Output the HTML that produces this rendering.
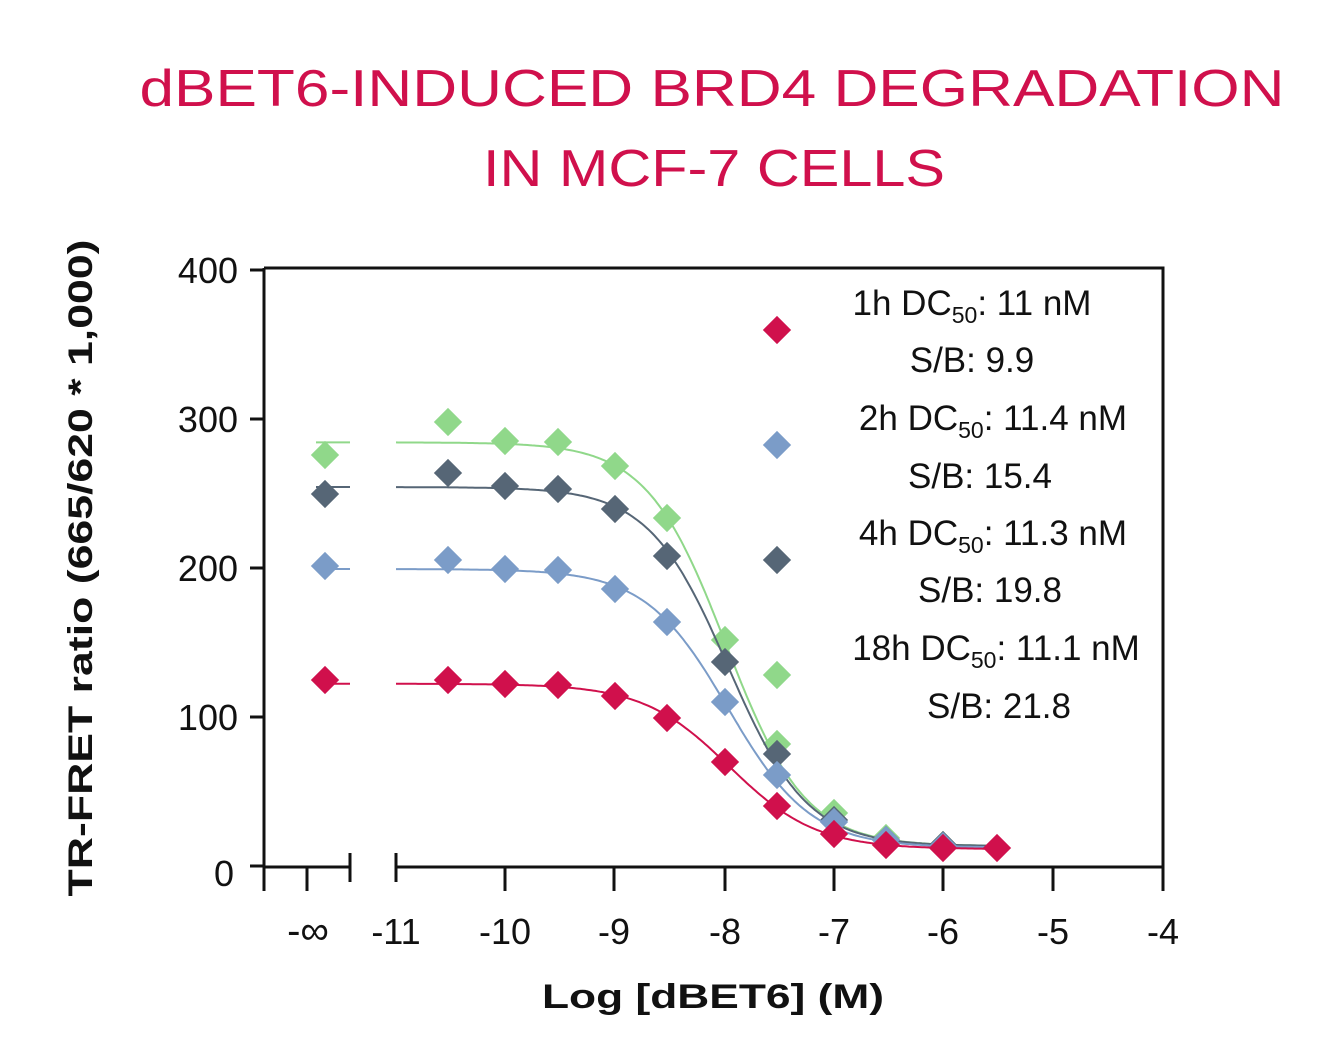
<!DOCTYPE html>
<html><head><meta charset="utf-8"><style>body{margin:0;background:#fff}svg{display:block}text{font-family:"Liberation Sans",sans-serif}</style></head>
<body>
<svg id="s" width="1332" height="1062" viewBox="0 0 1332 1062" xmlns="http://www.w3.org/2000/svg">
<text x="712" y="106" text-anchor="middle" font-size="52" fill="#d0104c" textLength="1145" lengthAdjust="spacingAndGlyphs">dBET6-INDUCED BRD4 DEGRADATION</text>
<text x="714" y="186" text-anchor="middle" font-size="52" fill="#d0104c" textLength="462" lengthAdjust="spacingAndGlyphs">IN MCF-7 CELLS</text>
<g stroke="#111" stroke-width="3" fill="none">
<path d="M264 268H1163V867M264 268V891M264 867H350M396 867H1163"/>
<path d="M250 270H264M250 419H264M250 568H264M250 717H264M250 866H264"/>
<path d="M307 867V891M350 853V882M396 853V882M505 867V891M614 867V891M725 867V891M834 867V891M943 867V891M1053 867V891M1163 867V891"/>
</g>
<g font-size="36" fill="#111" text-anchor="end">
<text x="238" y="283">400</text><text x="238" y="432">300</text><text x="238" y="581">200</text><text x="238" y="730">100</text><text x="234" y="886">0</text>
</g>
<g font-size="36" fill="#111" text-anchor="middle">
<text x="308" y="944" font-size="40">-∞</text><text x="396" y="944">-11</text><text x="505" y="944">-10</text><text x="614" y="944">-9</text><text x="725" y="944">-8</text><text x="834" y="944">-7</text><text x="943" y="944">-6</text><text x="1053" y="944">-5</text><text x="1163" y="944">-4</text>
</g>
<text x="713" y="1008" text-anchor="middle" font-size="34" font-weight="bold" fill="#111" textLength="342" lengthAdjust="spacingAndGlyphs">Log [dBET6] (M)</text>
<text transform="translate(92,568) rotate(-90)" text-anchor="middle" font-size="34" font-weight="bold" fill="#111" textLength="657" lengthAdjust="spacingAndGlyphs">TR-FRET ratio (665/620 * 1,000)</text>
<g id="curves"></g>
<g font-size="35" fill="#111" text-anchor="middle">
<text x="972" y="315">1h DC<tspan font-size="23" dy="8">50</tspan><tspan dy="-8">: 11 nM</tspan></text>
<text x="972" y="372">S/B: 9.9</text>
<text x="993" y="430">2h DC<tspan font-size="23" dy="8">50</tspan><tspan dy="-8">: 11.4 nM</tspan></text>
<text x="980" y="488">S/B: 15.4</text>
<text x="993" y="545">4h DC<tspan font-size="23" dy="8">50</tspan><tspan dy="-8">: 11.3 nM</tspan></text>
<text x="990" y="602">S/B: 19.8</text>
<text x="996" y="660">18h DC<tspan font-size="23" dy="8">50</tspan><tspan dy="-8">: 11.1 nM</tspan></text>
<text x="999" y="718">S/B: 21.8</text>
</g>
</svg>
<script>
const g=document.getElementById('curves');
const X=l=>396+(l+11)*109.6, Y=v=>867-v*1.49;
const series=[
{fill:'#d0104c',top:123,bot:12,cx:-7.96,h:1.1,leg:330,pts:[[325,680],[448,680],[505,684],[558,685],[615,696],[667,718],[725,762],[777,806],[834,834],[886,845],[943,848],[997,848]]},
{fill:'#7b9cc8',top:200,bot:13,cx:-7.97,h:1.15,leg:445,pts:[[325,566],[448,560],[505,569],[558,570],[615,589],[667,622],[725,702],[777,775],[834,822],[886,840],[943,846]]},
{fill:'#566676',top:255,bot:14,cx:-7.97,h:1.2,leg:560,pts:[[325,494],[448,473],[505,486],[558,489],[615,509],[667,556],[725,662],[777,754],[834,820],[886,840],[943,845]]},
{fill:'#90d88a',top:285,bot:14,cx:-7.99,h:1.2,leg:675,pts:[[325,455],[448,422],[505,441],[558,442],[615,466],[667,518],[725,640],[777,744],[834,813],[886,838],[943,845]]}
];
series.reverse();
let html='';
for(const s of series){
 let d='';
 for(let l=-11;l<=-5.5;l+=0.02){const v=s.bot+(s.top-s.bot)/(1+Math.pow(10,s.h*(l-s.cx)));d+=(d?'L':'M')+X(l).toFixed(1)+' '+Y(v).toFixed(1);}
 const col=s.fill;
 html+=`<path d="${d}" stroke="${col}" stroke-width="2" fill="none"/>`;
 html+=`<path d="M316 ${Y(s.top)}H350" stroke="${col}" stroke-width="2"/>`;
 for(const [x,y] of s.pts) html+=`<rect x="${x-10}" y="${y-10}" width="20" height="20" fill="${s.fill}" transform="rotate(45 ${x} ${y})"/>`;
 html+=`<rect x="767" y="${s.leg-10}" width="20" height="20" fill="${s.fill}" transform="rotate(45 777 ${s.leg})"/>`;
}
g.innerHTML=html;
</script>
</body></html>
